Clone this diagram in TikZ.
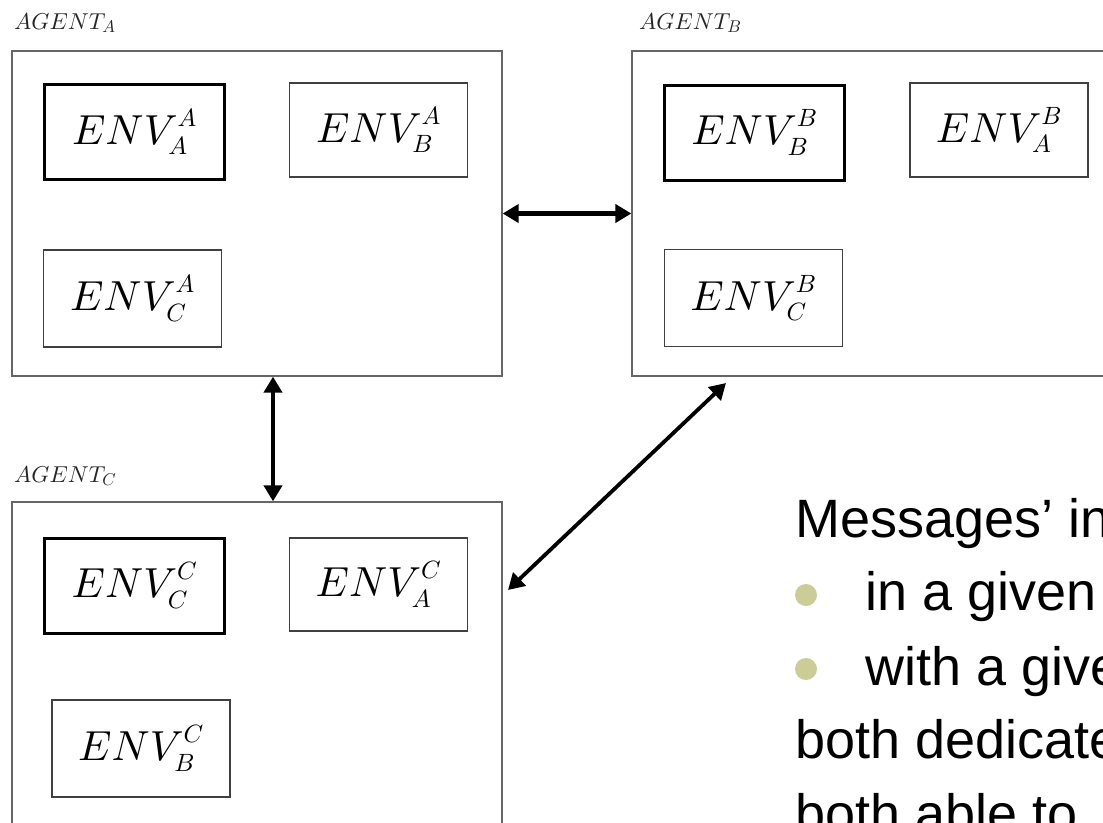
\documentclass[tikz,border=0pt]{standalone}
\usepackage{fontspec}
\newfontfamily\slidefont{Liberation Sans}
\usetikzlibrary{arrows.meta}
\definecolor{bulletcol}{RGB}{204,204,153}

% scalable math fonts at every size
\DeclareFontFamily{OML}{cmm}{\skewchar\font'177}
\DeclareFontShape{OML}{cmm}{m}{it}{<->cmmi10}{}
\DeclareFontFamily{OMS}{cmsy}{\skewchar\font'60}
\DeclareFontShape{OMS}{cmsy}{m}{n}{<->cmsy10}{}
\DeclareFontFamily{OT1}{cmr}{\hyphenchar\font45}
\DeclareFontShape{OT1}{cmr}{m}{n}{<->cmr10}{}
\DeclareMathSizes{42}{42}{25}{18}
\DeclareMathSizes{23}{23}{17}{12}

% environment label with a slightly higher superscript
\newcommand\envlab[2]{$ENV^{\raisebox{3pt}{$\scriptstyle #1$}}_{#2}$}

\tikzset{
  agentbox/.style={draw=black!60, line width=1.3pt, minimum width=490, minimum height=325, inner sep=0},
  envbox/.style={draw=black!75, line width=1.2pt, minimum width=178, minimum height=94, inner sep=0,
                 font=\fontsize{42}{48}\selectfont},
  ownbox/.style={envbox, draw=black, line width=3pt, minimum width=180, minimum height=95},
  agentlabel/.style={anchor=base west, inner sep=0, text=black!85, font=\fontsize{23}{26}\selectfont},
  link/.style={line width=4.5pt, {Triangle[length=16pt,width=18pt]}-{Triangle[length=16pt,width=18pt]}},
  slideline/.style={anchor=base west, inner sep=0, font=\slidefont\fontsize{54}{74}\selectfont},
  dot/.style={circle, fill=bulletcol, minimum size=22, inner sep=0}
}

\begin{document}
\begin{tikzpicture}[x=1pt, y=1pt]
\useasboundingbox (0,0) rectangle (1103,-822);
\fill[white] (0,0) rectangle (1103,-822);
\clip (0,0) rectangle (1103,-822);

% agent labels
\node[agentlabel] (labA) at (14,-29) {$AGENT_A$};
\node[agentlabel] (labB) at (639,-29) {$AGENT_B$};
\node[agentlabel] (labC) at (14,-482) {$AGENT_C$};

% agent frames
\node[agentbox] (agA) at (257,-213.5) {};
\node[agentbox] (agB) at (877,-213.5) {};
\node[agentbox] (agC) at (257,-664.5) {};

% environments held by agent A
\node[ownbox]  (eAA) at (134.5,-132) {\envlab{A}{A}};
\node[envbox]  (eAB) at (378.5,-130) {\envlab{A}{B}};
\node[envbox, minimum height=97] (eAC) at (132.5,-298.5) {\envlab{A}{C}};

% environments held by agent B
\node[ownbox]  (eBB) at (754.5,-132.5) {\envlab{B}{B}};
\node[envbox]  (eBA) at (999,-130) {\envlab{B}{A}};
\node[envbox, minimum height=97] (eBC) at (753.5,-298) {\envlab{B}{C}};

% environments held by agent C
\node[ownbox]  (eCC) at (134.5,-585.5) {\envlab{C}{C}};
\node[envbox, minimum height=93] (eCA) at (378.5,-584.5) {\envlab{C}{A}};
\node[envbox, minimum height=97] (eCB) at (141,-748.5) {\envlab{C}{B}};

% message links between agents
\draw[link] (agA.east) -- (agB.west);
\draw[link] ([xshift=16pt]agA.south) -- ([xshift=16pt]agC.north);
\coordinate (dB) at (726,-383);
\coordinate (dC) at (508,-590);
\draw[link, line width=3.8pt] (dC) -- (dB);

% text
\node[slideline] (t0) at (795,-537) {Messages’ in};
\node[dot] (b1) at (806,-595) {};
\node[slideline] (t1) at (865,-610) {in a given};
\node[dot] (b2) at (806,-669) {};
\node[slideline] (t2) at (865,-685) {with a give};
\node[slideline] (t3) at (795,-758) {both dedicate};
\node[slideline] (t4) at (795,-832) {both able to};
\end{tikzpicture}
\end{document}
